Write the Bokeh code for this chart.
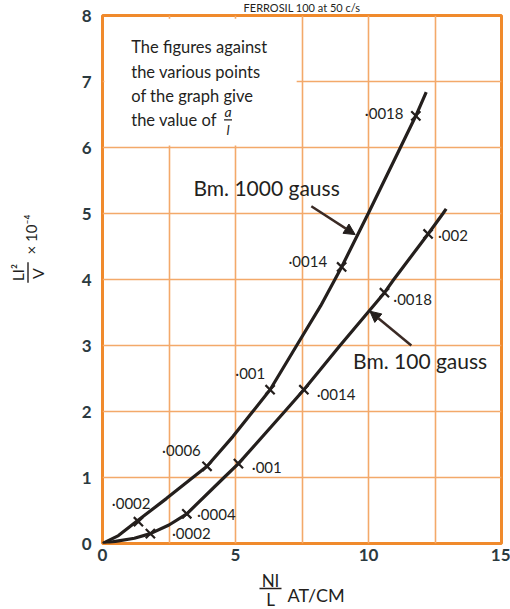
import math
from bokeh.plotting import figure
from bokeh.layouts import column, row
from bokeh.models import FixedTicker, Label, Arrow, NormalHead, Range1d, BoxAnnotation
from bokeh.core.properties import value
from bokeh.embed import file_html
from bokeh.resources import INLINE

# ---- data ----
# Bm. 1000 gauss curve
upper_x = [0, 0.6, 1.3, 2.4, 3.3, 3.93, 4.9, 5.65, 6.3, 7.3, 8.2, 8.99, 9.99, 11.2, 11.78, 12.17]
upper_y = [0, 0.12, 0.34, 0.68, 0.97, 1.17, 1.62, 2.0, 2.33, 3.0, 3.6, 4.19, 5.0, 6.0, 6.48, 6.84]
# Bm. 100 gauss curve
lower_x = [0, 0.6, 1.2, 1.8, 2.5, 3.17, 4.57, 5.11, 6.85, 7.57, 8.93, 10.6, 10.95, 12.24, 12.8, 12.92]
lower_y = [0, 0.04, 0.08, 0.15, 0.28, 0.45, 1.0, 1.21, 2.0, 2.33, 3.0, 3.8, 4.0, 4.69, 5.0, 5.07]

# marked points (a/l values)
upper_mark_x = [1.35, 3.93, 6.3, 8.99, 11.78]
upper_mark_y = [0.33, 1.17, 2.33, 4.19, 6.48]
upper_mark_lbl = ["·0002", "·0006", "·001", "·0014", "·0018"]
upper_lbl_x = [0.35, 2.24, 4.99, 6.99, 9.86]
upper_lbl_y = [0.62, 1.41, 2.59, 4.28, 6.53]

lower_mark_x = [1.8, 3.17, 5.11, 7.57, 10.6, 12.24]
lower_mark_y = [0.15, 0.45, 1.21, 2.33, 3.8, 4.69]
lower_mark_lbl = ["·0002", "·0004", "·001", "·0014", "·0018", "·002"]
lower_lbl_x = [2.61, 3.55, 5.61, 8.05, 10.93, 12.61]
lower_lbl_y = [0.16, 0.45, 1.16, 2.27, 3.71, 4.67]

x_ticks = [0, 5, 10, 15]
y_ticks = [0, 1, 2, 3, 4, 5, 6, 7, 8]
x_grid = [2.5, 5, 7.5, 10, 12.5]
y_grid = [1, 2, 3, 4, 5, 6, 7]

TITLE = "FERROSIL 100 at 50 c/s"

FONT = "Lato"
INK = "#241f1d"
ORANGE = "#f08a2c"
GRID = "#f3a96a"


def blank_fig(w, h, xr, yr):
    f = figure(width=w, height=h, x_range=Range1d(*xr), y_range=Range1d(*yr),
               output_backend="svg", toolbar_location=None,
               x_axis_location=None, y_axis_location=None, min_border=0)
    f.outline_line_color = None
    f.background_fill_color = "white"
    f.border_fill_color = "white"
    f.grid.visible = False
    return f


# ---------------- main chart ----------------
p = figure(width=450, height=569, x_range=Range1d(0, 15), y_range=Range1d(0, 8),
           output_backend="svg", toolbar_location=None,
           min_border_left=42, min_border_right=9, min_border_top=15, min_border_bottom=26)
p.background_fill_color = "white"
p.border_fill_color = "white"
p.outline_line_color = ORANGE
p.outline_line_width = 3

p.title.text = TITLE
p.title.align = "center"
p.title.offset = -4
p.title.standoff = 0
p.title.vertical_align = "top"
p.title.text_font = FONT
p.title.text_font_size = "11px"
p.title.text_font_style = "normal"
p.title.text_color = INK

p.xgrid.ticker = FixedTicker(ticks=x_grid)
p.ygrid.ticker = FixedTicker(ticks=y_grid)
p.grid.grid_line_color = GRID
p.grid.grid_line_width = 1.6

p.xaxis.ticker = FixedTicker(ticks=x_ticks)
p.yaxis.ticker = FixedTicker(ticks=y_ticks)
for ax in (p.xaxis, p.yaxis):
    ax.axis_line_color = None
    ax.major_tick_line_color = None
    ax.minor_tick_line_color = None
    ax.major_tick_out = 0
    ax.major_tick_in = 0
    ax.major_label_text_font = FONT
    ax.major_label_text_font_size = "17px"
    ax.major_label_text_font_style = "bold"
    ax.major_label_text_color = "#2b3a3f"
p.xaxis.major_label_standoff = 5
p.yaxis.major_label_standoff = 11

# note panel covering the upper-left grid cells
p.add_layout(BoxAnnotation(left=0.07, right=7.3, bottom=6.03, top=7.95,
                           fill_color="white", fill_alpha=1.0, line_color=None))
note_lines = ["The figures against", "the various points", "of the graph give", "the value of"]
note_y = [7.53, 7.15, 6.78, 6.41]
for t, yy in zip(note_lines, note_y):
    p.add_layout(Label(x=1.08, y=yy, text=t, text_font=FONT, text_font_size="16.5px",
                       text_color=INK, text_baseline="middle", text_align="left"))
p.add_layout(Label(x=4.72, y=6.55, text="a", text_font=FONT, text_font_size="14px",
                   text_font_style="italic", text_color=INK, text_baseline="middle", text_align="center"))
p.add_layout(Arrow(start=None, end=None, x_start=4.57, y_start=6.42, x_end=4.87, y_end=6.42,
                   line_color=INK, line_width=1.2))
p.add_layout(Label(x=4.72, y=6.28, text="l", text_font=FONT, text_font_size="14px",
                   text_font_style="italic", text_color=INK, text_baseline="middle", text_align="center"))

# curves
p.line(upper_x, upper_y, line_color=INK, line_width=3.2)
p.line(lower_x, lower_y, line_color=INK, line_width=3.2)

# crosses
p.scatter(upper_mark_x, upper_mark_y, marker="x", size=13, line_color=INK, line_width=2.2)
p.scatter(lower_mark_x, lower_mark_y, marker="x", size=13, line_color=INK, line_width=2.2)

# point labels
p.text(upper_lbl_x, upper_lbl_y, text=upper_mark_lbl, text_font=value(FONT), text_font_size="15px",
       text_color=INK, text_align="left", text_baseline="middle")
p.text(lower_lbl_x, lower_lbl_y, text=lower_mark_lbl, text_font=value(FONT), text_font_size="15px",
       text_color=INK, text_align="left", text_baseline="middle")

# curve names with pointers
p.add_layout(Label(x=3.42, y=5.40, text="Bm. 1000 gauss", text_font=FONT, text_font_size="21px",
                   text_color=INK, text_baseline="middle", text_align="left"))
p.add_layout(Arrow(end=NormalHead(size=11, fill_color=INK, line_color=INK),
                   x_start=7.85, y_start=5.11, x_end=9.5, y_end=4.68,
                   line_color="#3a2a25", line_width=2.5))
p.add_layout(Label(x=9.42, y=2.77, text="Bm. 100 gauss", text_font=FONT, text_font_size="21px",
                   text_color=INK, text_baseline="middle", text_align="left"))
p.add_layout(Arrow(end=NormalHead(size=11, fill_color=INK, line_color=INK),
                   x_start=11.61, y_start=3.0, x_end=10.05, y_end=3.52,
                   line_color="#3a2a25", line_width=2.5))

# ---------------- y-axis label: LI^2 / V x 10^-4 (rotated) ----------------
yfig = blank_fig(60, 569, (0, 60), (0, 569))   # strip spans page y 0..569
rot = math.pi / 2
yfig.text([17], [569 - 277], text=["LI²"], text_font=value(FONT), text_font_size="15px", angle=rot,
          text_color=INK, text_align="center", text_baseline="middle")
yfig.segment([27.5], [569 - 266], [27.5], [569 - 288], line_color=INK, line_width=1.4)
yfig.text([37], [569 - 278], text=["V"], text_font=value(FONT), text_font_size="16px", angle=rot,
          text_color=INK, text_align="center", text_baseline="middle")
yfig.text([30], [569 - 236], text=["× 10⁻⁴"], text_font=value(FONT), text_font_size="15px", angle=rot,
          text_color=INK, text_align="center", text_baseline="middle")

# ---------------- x-axis label: NI / L  AT/CM ----------------
xfig = blank_fig(510, 40, (0, 510), (0, 40))   # strip spans page y 569..609
xfig.text([270], [609 - 580], text=["NI"], text_font=value(FONT), text_font_size="17px",
          text_color=INK, text_align="center", text_baseline="middle")
xfig.segment([259], [609 - 588], [281], [609 - 588], line_color=INK, line_width=1.4)
xfig.text([270], [609 - 599], text=["L"], text_font=value(FONT), text_font_size="17px",
          text_color=INK, text_align="center", text_baseline="middle")
xfig.text([287], [609 - 594], text=["AT/CM"], text_font=value(FONT), text_font_size="18px",
          text_color=INK, text_align="left", text_baseline="middle")

layout = column(row(yfig, p, spacing=0), xfig, spacing=0)

open("out.html", "w").write(file_html(layout, INLINE))
